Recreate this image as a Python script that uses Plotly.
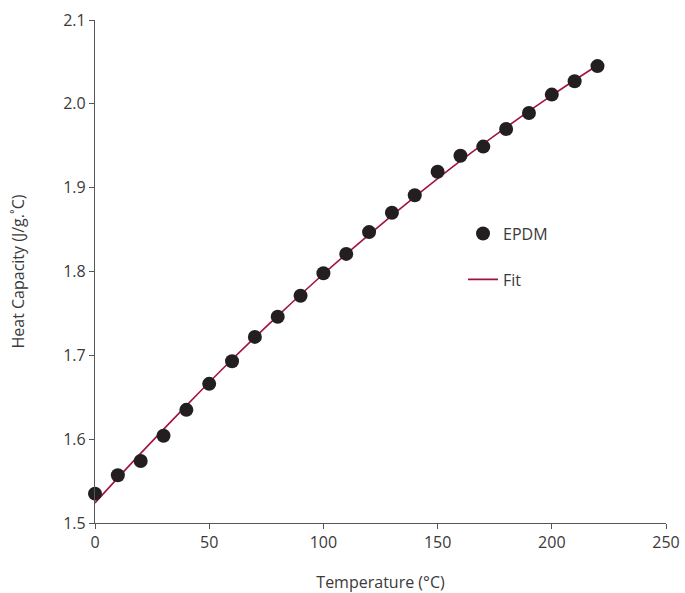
import plotly.graph_objects as go

temperature = [0, 10, 20, 30, 40, 50, 60, 70, 80, 90, 100, 110,
               120, 130, 140, 150, 160, 170, 180, 190, 200, 210, 220]
heat_capacity = [1.535, 1.557, 1.574, 1.604, 1.635, 1.666, 1.693, 1.722,
                 1.746, 1.771, 1.798, 1.821, 1.847, 1.870, 1.891, 1.919,
                 1.938, 1.949, 1.970, 1.989, 2.011, 2.027, 2.045]

fit_temperature = [0, 20, 40, 60, 80, 100, 120, 140, 160, 180, 200, 220]
fit_values = [1.524, 1.583, 1.640, 1.695, 1.747, 1.797, 1.844, 1.889,
              1.932, 1.972, 2.010, 2.046]

x_ticks = [0, 50, 100, 150, 200, 250]
y_ticks = [1.5, 1.6, 1.7, 1.8, 1.9, 2.0, 2.1]

FONT = "'Open Sans', 'DejaVu Sans', sans-serif"
TXT = "#3a3a3a"

fig = go.Figure()
fig.add_trace(go.Scatter(
    x=fit_temperature, y=fit_values, mode="lines", name="Fit",
    line=dict(color="#a3123f", width=1.6, shape="spline"),
    legendgroup="b", legendrank=2, cliponaxis=False,
))
fig.add_trace(go.Scatter(
    x=temperature, y=heat_capacity, mode="markers", name="EPDM",
    marker=dict(color="#231f20", size=14),
    legendgroup="a", legendrank=1, cliponaxis=False,
))

fig.update_layout(
    width=685, height=593,
    margin=dict(l=95, r=19, t=20, b=70),
    paper_bgcolor="white", plot_bgcolor="white",
    font=dict(family=FONT, size=15, color=TXT),
    showlegend=True,
    legend=dict(
        x=0.6445, y=0.609, xanchor="left", yanchor="top",
        bgcolor="rgba(0,0,0,0)", font=dict(size=16, color=TXT),
        traceorder="grouped", tracegroupgap=22, itemwidth=30,
    ),
    xaxis=dict(
        range=[0, 250], tickvals=x_ticks, ticks="outside", ticklen=5,
        tickcolor="#555", showline=True, linecolor="#555", linewidth=1.3,
        showgrid=False, zeroline=False, automargin=False,
        title=dict(text="Temperature (°C)", font=dict(size=16, color=TXT), standoff=26),
        tickfont=dict(size=16, color=TXT),
    ),
    yaxis=dict(
        range=[1.5, 2.1], tickvals=y_ticks, tickformat=".1f", ticks="outside",
        ticklen=5, tickcolor="#555", showline=True, linecolor="#555",
        linewidth=1.3, showgrid=False, zeroline=False, automargin=False,
        title=dict(text="Heat Capacity (J/g.˚C)", font=dict(size=16, color=TXT), standoff=34),
        tickfont=dict(size=16, color=TXT),
    ),
)

fig.write_html("out.html")
